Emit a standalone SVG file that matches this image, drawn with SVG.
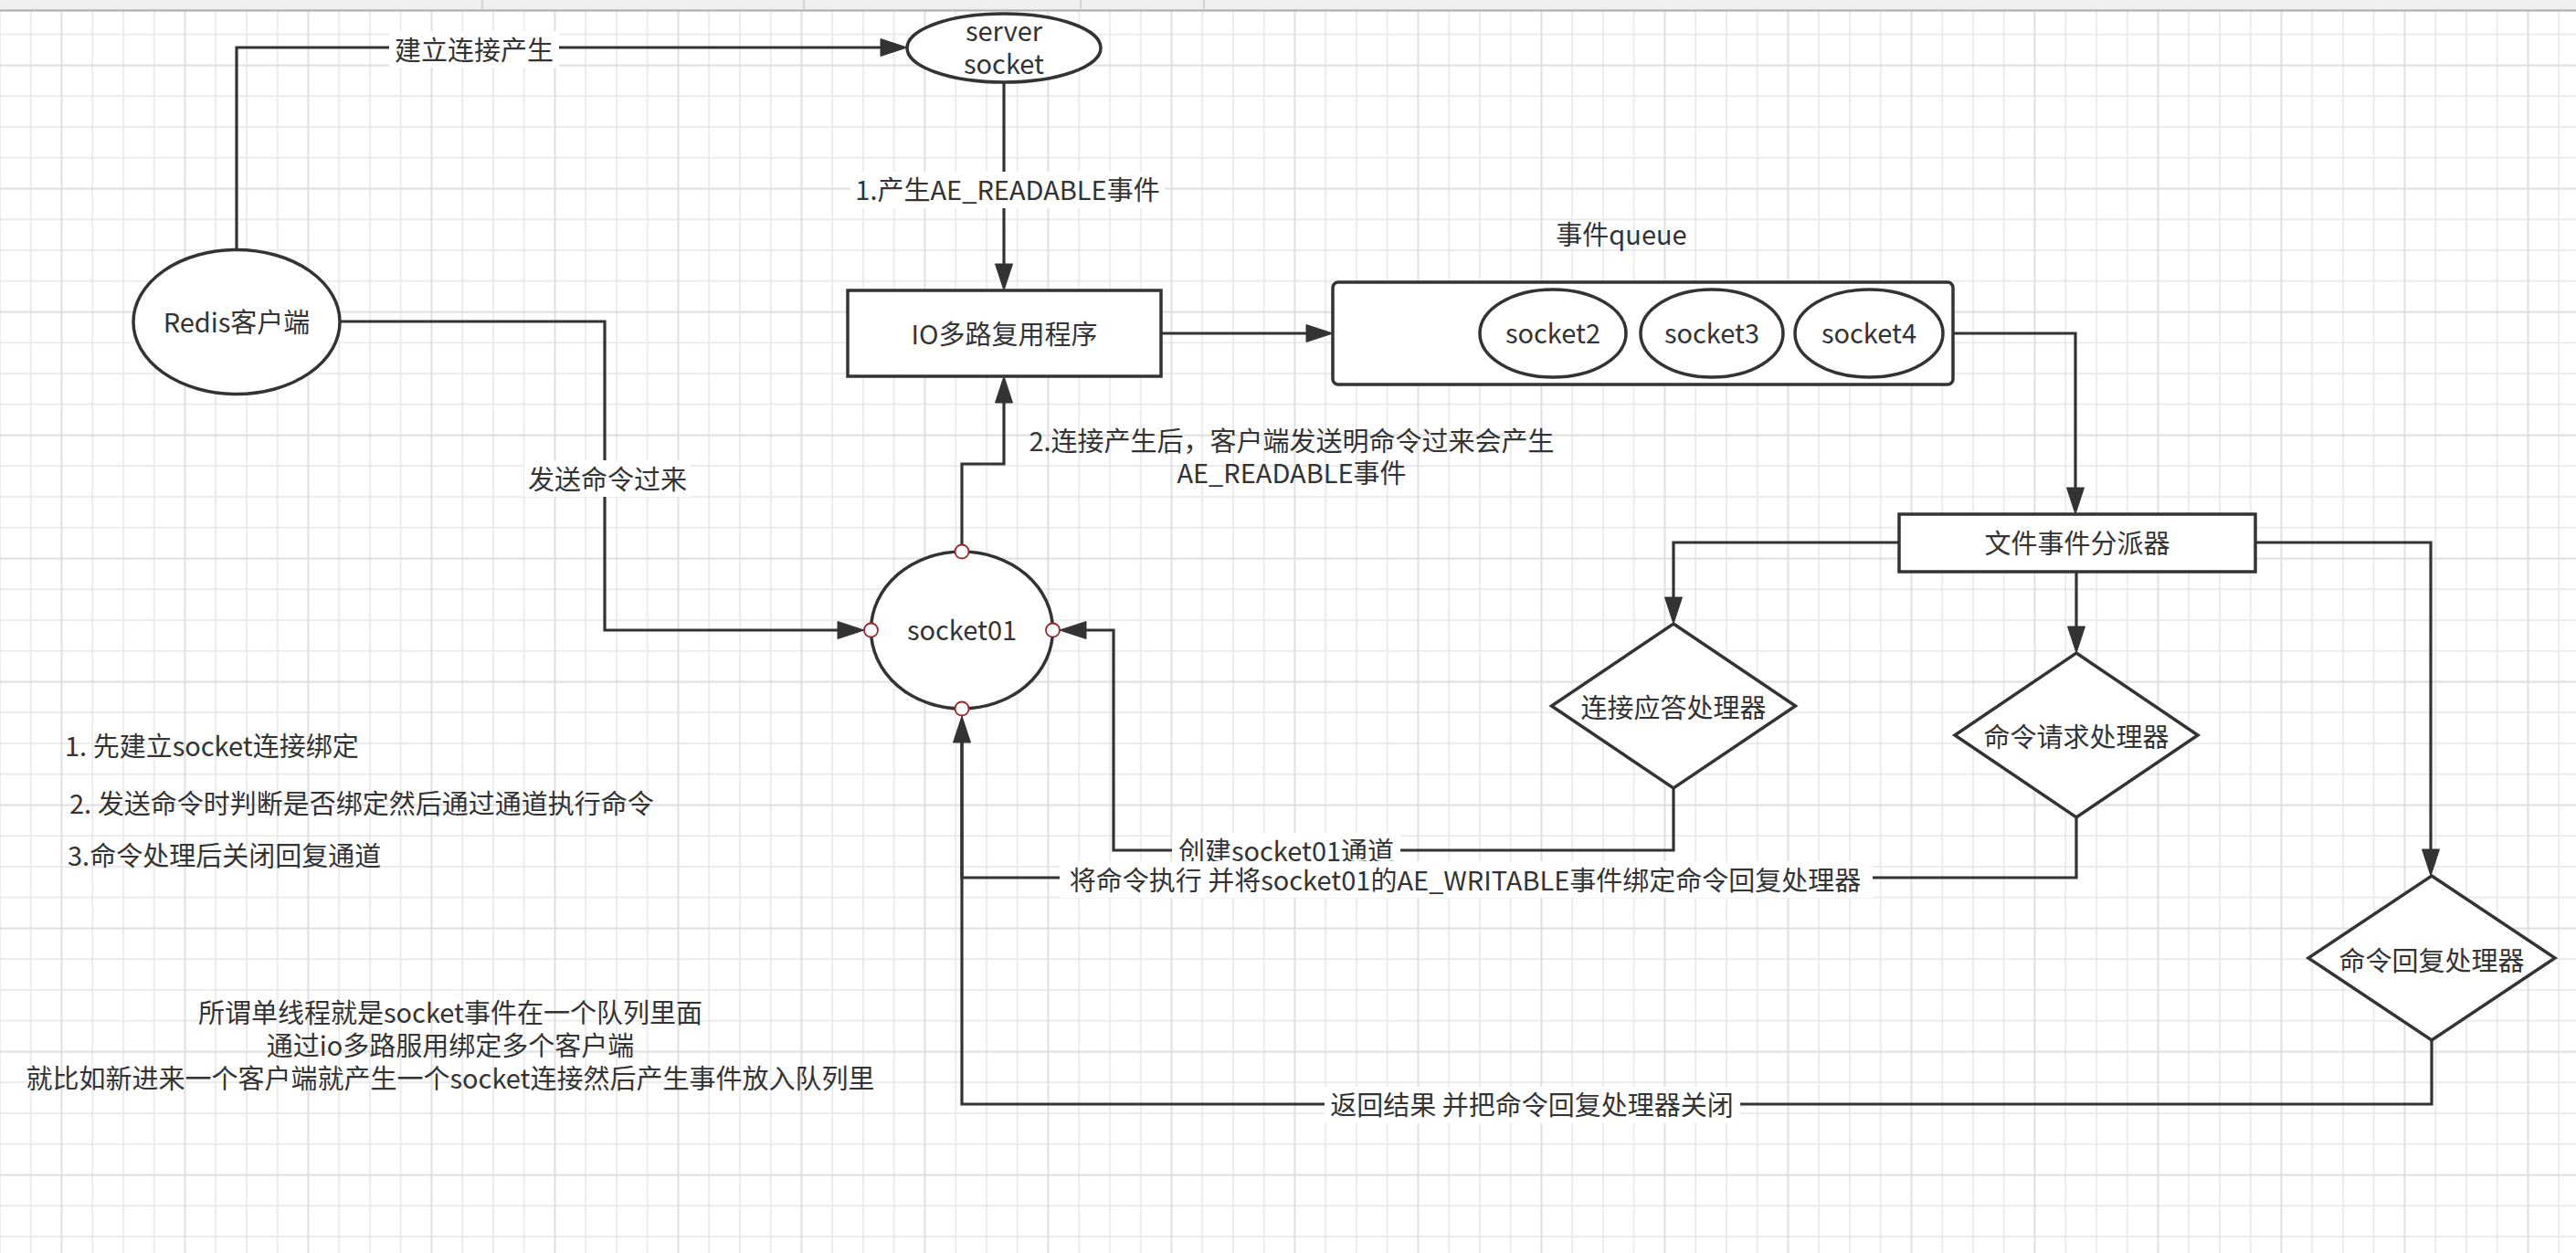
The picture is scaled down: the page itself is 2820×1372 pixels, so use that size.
<svg xmlns="http://www.w3.org/2000/svg" width="2820" height="1372" viewBox="0 0 2820 1372">
<style>
  .n{fill:#fff;stroke:#333;stroke-width:3.5}
  .t{font-family:"Noto Sans CJK SC","Noto Sans",sans-serif;font-size:29px;fill:#333}
  .m{text-anchor:middle}
  .c{fill:none;stroke:#333;stroke-width:3.2}
  .bg{fill:#fff}
  .port{fill:#fff;stroke:#9b2626;stroke-width:1.8}
</style>
<defs>
  <marker id="ah" markerUnits="userSpaceOnUse" markerWidth="32" markerHeight="22" refX="1" refY="11" orient="auto">
    <path d="M1,1.5 L30,11 L1,20.5 Z" fill="#333" stroke="#333" stroke-width="1"/>
  </marker>
  <pattern id="grid" x="-16.875" y="-12.875" width="135" height="135" patternUnits="userSpaceOnUse">
    <path d="M16.875,0V135M50.625,0V135M118.125,0V135M0,16.875H135M0,50.625H135M0,118.125H135" stroke="#e9e9e9" stroke-width="1.8" fill="none"/>
    <path d="M84.375,0V135M0,84.375H135" stroke="#dedede" stroke-width="2" fill="none"/>
  </pattern>
</defs>
<rect x="0" y="0" width="2820" height="1372" fill="#fff"/>
<rect x="0" y="12" width="2820" height="1360" fill="url(#grid)"/>
<g id="header">
  <rect x="0" y="0" width="2820" height="11" fill="#efefef"/>
  <path d="M0,11.5H2820" stroke="#ababab" stroke-width="2"/>
  <path d="M528,0V11M880,0V11M1183,0V11M1318,0V11" stroke="#d4d4d4" stroke-width="2"/>
</g>

<g id="connectors">
  <path class="c" d="M259,273V52H964" marker-end="url(#ah)"/>
  <path class="c" d="M1099,90V289" marker-end="url(#ah)"/>
  <path class="c" d="M1271,365H1430" marker-end="url(#ah)"/>
  <path class="c" d="M2138,365H2272V534" marker-end="url(#ah)"/>
  <path class="c" d="M2079,594H1832V654" marker-end="url(#ah)"/>
  <path class="c" d="M2273,626V686" marker-end="url(#ah)"/>
  <path class="c" d="M2469,594H2661V930" marker-end="url(#ah)"/>
  <path class="c" d="M372,352H662V690H917" marker-end="url(#ah)"/>
  <path class="c" d="M1053,604V508H1099V441" marker-end="url(#ah)"/>
  <path class="c" d="M1832,863V931H1219V690H1189" marker-end="url(#ah)"/>
  <path class="c" d="M2273,895V961H1053V813" marker-end="url(#ah)"/>
  <path class="c" d="M2662,1139V1209H1053V813"/>

  <rect class="bg" x="426" y="34" width="186" height="40"/>
  <text class="t m" x="519" y="66">建立连接产生</text>
  <rect class="bg" x="931" y="188" width="344" height="40"/>
  <text class="t m" x="1103" y="219">1.产生AE_READABLE事件</text>
  <rect class="bg" x="574" y="504" width="182" height="40"/>
  <text class="t m" x="665" y="536">发送命令过来</text>
  <rect class="bg" x="1283" y="912" width="250" height="38"/>
  <text class="t m" x="1408" y="943">创建socket01通道</text>
  <rect class="bg" x="1160" y="943" width="890" height="40"/>
  <text class="t m" x="1604" y="975">将命令执行 并将socket01的AE_WRITABLE事件绑定命令回复处理器</text>
  <rect class="bg" x="1450" y="1190" width="455" height="40"/>
  <text class="t m" x="1677" y="1221">返回结果 并把命令回复处理器关闭</text>
  <text class="t m" x="1414" y="494">2.连接产生后，客户端发送明命令过来会产生</text>
  <text class="t m" x="1414" y="529">AE_READABLE事件</text>
</g>

<g id="server-socket">
  <ellipse class="n" cx="1099" cy="52.5" rx="106" ry="37.5"/>
  <text class="t m" x="1099" y="45">server</text>
  <text class="t m" x="1099" y="81">socket</text>
</g>
<g id="redis-client">
  <ellipse class="n" cx="259" cy="352.5" rx="113" ry="79"/>
  <text class="t m" x="259" y="364">Redis客户端</text>
</g>
<g id="io-multiplexer">
  <rect class="n" x="928" y="318" width="343" height="94"/>
  <text class="t m" x="1099.5" y="377">IO多路复用程序</text>
</g>
<g id="event-queue">
  <text class="t m" x="1775" y="268">事件queue</text>
  <rect class="n" x="1459" y="309" width="679" height="112" rx="6"/>
</g>
<g id="socket2">
  <ellipse class="n" cx="1700" cy="365" rx="80" ry="48"/>
  <text class="t m" x="1700" y="376">socket2</text>
</g>
<g id="socket3">
  <ellipse class="n" cx="1874" cy="365" rx="78" ry="48"/>
  <text class="t m" x="1874" y="376">socket3</text>
</g>
<g id="socket4">
  <ellipse class="n" cx="2046" cy="365" rx="81" ry="48"/>
  <text class="t m" x="2046" y="376">socket4</text>
</g>
<g id="socket01">
  <ellipse class="n" cx="1053" cy="690" rx="99.5" ry="86"/>
  <text class="t m" x="1053" y="701">socket01</text>
  <circle class="port" cx="1053" cy="604" r="7.5"/>
  <circle class="port" cx="1053" cy="776" r="7.5"/>
  <circle class="port" cx="953.5" cy="690" r="7.5"/>
  <circle class="port" cx="1152.5" cy="690" r="7.5"/>
</g>
<g id="dispatcher">
  <rect class="n" x="2079" y="563" width="390" height="63"/>
  <text class="t m" x="2274" y="606">文件事件分派器</text>
</g>
<g id="accept-handler">
  <path class="n" d="M1832,683L1965.5,773L1832,863L1698.5,773Z"/>
  <text class="t m" x="1832" y="786">连接应答处理器</text>
</g>
<g id="request-handler">
  <path class="n" d="M2273,715L2406,805L2273,895L2140,805Z"/>
  <text class="t m" x="2273" y="818">命令请求处理器</text>
</g>
<g id="reply-handler">
  <path class="n" d="M2662,959L2797,1049L2662,1139L2527,1049Z"/>
  <text class="t m" x="2662" y="1063">命令回复处理器</text>
</g>

<g id="notes">
  <text class="t" x="71" y="828">1. 先建立socket连接绑定</text>
  <text class="t" x="76" y="891">2. 发送命令时判断是否绑定然后通过通道执行命令</text>
  <text class="t" x="74" y="948">3.命令处理后关闭回复通道</text>
  <text class="t m" x="493" y="1120">所谓单线程就是socket事件在一个队列里面</text>
  <text class="t m" x="493" y="1156">通过io多路服用绑定多个客户端</text>
  <text class="t m" x="493" y="1192">就比如新进来一个客户端就产生一个socket连接然后产生事件放入队列里</text>
</g>
</svg>
